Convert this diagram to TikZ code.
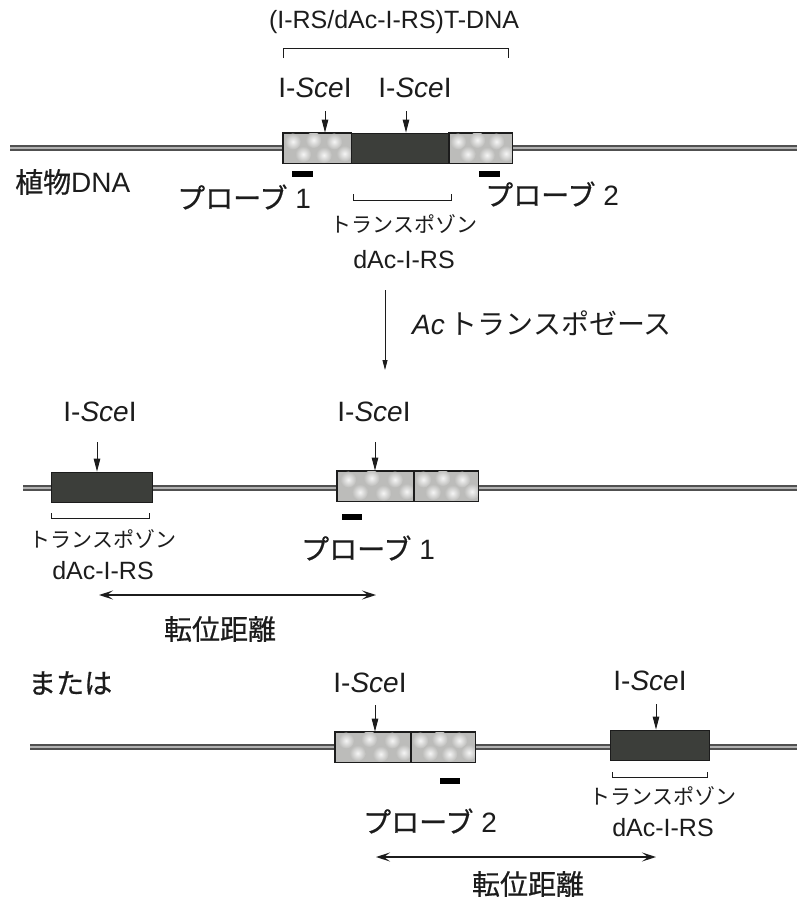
\documentclass[tikz,border=0pt]{standalone}
\usepackage{fontspec}
\setmainfont{Liberation Sans}
\newfontfamily\jp{Noto Sans CJK JP}
\newfontfamily\jpb[FakeBold=0.6]{Noto Sans CJK JP}
\usetikzlibrary{arrows.meta,calc}
\definecolor{dnaout}{RGB}{80,80,80}
\definecolor{dnain}{RGB}{178,178,178}
\definecolor{lightfill}{RGB}{188,188,186}
\definecolor{darkfill}{RGB}{60,62,58}
\definecolor{inkc}{RGB}{28,28,28}
\tikzset{
  dna/.style={line width=5.5pt, draw=dnaout},
  dnacore/.style={line width=2pt, draw=dnain},
  lightbox/.style={draw=inkc, line width=0.8pt, fill=lightfill, inner sep=0pt, minimum height=30pt},
  darkbox/.style={draw=inkc, line width=0.8pt, fill=darkfill, inner sep=0pt, minimum height=30pt},
  probe/.style={fill=black, draw=none, inner sep=0pt, minimum width=21pt, minimum height=6pt},
  cutarrow/.style={draw=inkc, line width=1pt, -{Triangle[length=13pt,width=6.5pt]}},
  mainarrow/.style={draw=inkc, line width=0.9pt, -{Triangle[length=10pt,width=5pt]}},
  brk/.style={draw=inkc, line width=0.8pt},
  boxedge/.style={draw=inkc, line width=0.8pt},
  dist/.style={draw=inkc, line width=1.3pt, {Stealth[length=14pt,width=9pt,inset=6pt]}-{Stealth[length=14pt,width=9pt,inset=6pt]}},
  lbl/.style={inner sep=0pt, text=inkc, font=\fontsize{28}{30}\selectfont},
  title/.style={inner sep=0pt, text=inkc, font=\fontsize{25}{27}\selectfont},
  small/.style={inner sep=0pt, text=inkc, font=\fontsize{21}{23}\selectfont\jp},
  dac/.style={inner sep=0pt, text=inkc, font=\fontsize{25}{27}\selectfont},
  jlbl/.style={inner sep=0pt, text=inkc, font=\fontsize{28}{30}\selectfont\jpb},
  spot/.style={inner color=white!85!lightfill, outer color=lightfill},
}
\newcommand{\isce}{I-\textit{Sce}I}
% soft halftone spots inside a light box: #1 = box node name
\newcommand{\mottle}[1]{%
  \begin{scope}
    \clip ([xshift=1pt,yshift=-1pt]#1.north west) rectangle ([xshift=-1pt,yshift=1pt]#1.south east);
    \foreach \dx/\dy in {0.15/0.3, 0.45/0.25, 0.75/0.3, 0.3/0.72, 0.6/0.75, 0.9/0.7}{
      \path[spot] ($(#1.north west)!\dx!(#1.north east) + (0,\dy*30)$) circle (8pt);
    }
  \end{scope}
  \draw[boxedge] (#1.north west) rectangle (#1.south east);}
\begin{document}
\begin{tikzpicture}[x=1pt, y=-1pt]
\useasboundingbox[fill=white] (0,0) rectangle (797,898);

% ---------------- top: T-DNA in plant DNA ----------------
\node[title] (tdna) at (394,22) {(I-RS/dAc-I-RS)T-DNA};
\coordinate (tb1) at (283,58);
\coordinate (tb2) at (283,48);
\coordinate (tb3) at (508,48);
\coordinate (tb4) at (508,58);
\draw[brk] (tb1) -- (tb2) -- (tb3) -- (tb4);

\coordinate (dnaAl) at (10,148);
\coordinate (dnaAr) at (797,148);
\draw[dna] (dnaAl) -- (dnaAr);
\draw[dnacore] (dnaAl) -- (dnaAr);

\node[lightbox, minimum width=68pt] (tl) at (317,148) {};
\node[darkbox, minimum width=98pt] (td) at (400,148) {};
\node[lightbox, minimum width=63pt] (tr) at (480.5,148) {};
\mottle{tl}\mottle{tr}

\node[lbl] (sA1) at (315,88) {\isce};
\node[lbl] (sA2) at (415,88) {\isce};
\coordinate (aA1) at (325,111);
\coordinate (aA2) at (406,111);
\draw[cutarrow] (aA1) -- (aA1 |- tl.north);
\draw[cutarrow] (aA2) -- (aA2 |- td.north);

\node[probe] (pA1) at (302.5,173.5) {};
\node[probe] (pA2) at (489,173.5) {};

\node[lbl, anchor=west] (plant) at (15,182) {{\jpb 植物}DNA};
\node[lbl, anchor=west] (prA1) at (177,197) {{\jpb プローブ} 1};
\node[lbl, anchor=west] (prA2) at (485,194) {{\jpb プローブ} 2};

\coordinate (bA1) at (353,194);
\coordinate (bA2) at (353,200);
\coordinate (bA3) at (451,200);
\coordinate (bA4) at (451,194);
\draw[brk] (bA1) -- (bA2) -- (bA3) -- (bA4);
\node[small] (tpA) at (404,224) {トランスポゾン};
\node[dac] (dA) at (404,260) {dAc-I-RS};

% ---------------- transposase step ----------------
\coordinate (mA) at (385,290);
\coordinate (mB) at (385,370);
\draw[mainarrow] (mA) -- (mB);
\node[lbl, anchor=west] (acT) at (412,323) {\textit{Ac}\,{\jp トランスポゼース}};

% ---------------- middle ----------------
\coordinate (dnaBl) at (23,488);
\coordinate (dnaBr) at (797,488);
\draw[dna] (dnaBl) -- (dnaBr);
\draw[dnacore] (dnaBl) -- (dnaBr);

\node[darkbox, minimum width=101pt] (md) at (101.5,487) {};
\node[lightbox, minimum width=77pt] (ml1) at (375.5,486) {};
\node[lightbox, minimum width=64pt] (ml2) at (446,486) {};
\mottle{ml1}\mottle{ml2}

\node[lbl] (sB1) at (100,412) {\isce};
\node[lbl] (sB2) at (374,412) {\isce};
\coordinate (aB1) at (97,442);
\coordinate (aB2) at (375,442);
\draw[cutarrow] (aB1) -- (aB1 |- md.north);
\draw[cutarrow] (aB2) -- (aB2 |- ml1.north);

\node[probe, minimum width=20pt] (pB) at (352,517) {};
\coordinate (bB1) at (51,513);
\coordinate (bB2) at (51,518);
\coordinate (bB3) at (149,518);
\coordinate (bB4) at (149,513);
\draw[brk] (bB1) -- (bB2) -- (bB3) -- (bB4);
\node[small] (tpB) at (103,539) {トランスポゾン};
\node[dac] (dB) at (103,571) {dAc-I-RS};
\node[lbl] (prB) at (368,548) {{\jpb プローブ} 1};

\coordinate (xB1) at (99,595);
\coordinate (xB2) at (376,595);
\draw[dist] (xB1) -- (xB2);
\node[jlbl] (kB) at (220,629) {転位距離};

% ---------------- bottom ----------------
\node[jlbl, anchor=west] (mata) at (28,683) {または};

\coordinate (dnaCl) at (30,747);
\coordinate (dnaCr) at (797,747);
\draw[dna] (dnaCl) -- (dnaCr);
\draw[dnacore] (dnaCl) -- (dnaCr);

\node[lightbox, minimum width=76pt] (bl1) at (373,747) {};
\node[lightbox, minimum width=64pt] (bl2) at (443,747) {};
\node[darkbox, minimum width=99pt] (bd) at (659.5,745) {};
\mottle{bl1}\mottle{bl2}

\node[lbl] (sC1) at (370,683) {\isce};
\node[lbl] (sC2) at (650,681) {\isce};
\coordinate (aC1) at (375,705);
\coordinate (aC2) at (656,704);
\draw[cutarrow] (aC1) -- (aC1 |- bl1.north);
\draw[cutarrow] (aC2) -- (aC2 |- bd.north);

\node[probe, minimum width=20pt] (pC) at (450,781) {};
\coordinate (bC1) at (612,772);
\coordinate (bC2) at (612,777);
\coordinate (bC3) at (707,777);
\coordinate (bC4) at (707,772);
\draw[brk] (bC1) -- (bC2) -- (bC3) -- (bC4);
\node[small] (tpC) at (663,796) {トランスポゾン};
\node[dac] (dC) at (663,828) {dAc-I-RS};
\node[lbl] (prC) at (430,821) {{\jpb プローブ} 2};

\coordinate (xC1) at (376,857);
\coordinate (xC2) at (656,857);
\draw[dist] (xC1) -- (xC2);
\node[jlbl] (kC) at (528,884) {転位距離};
\end{tikzpicture}
\end{document}
